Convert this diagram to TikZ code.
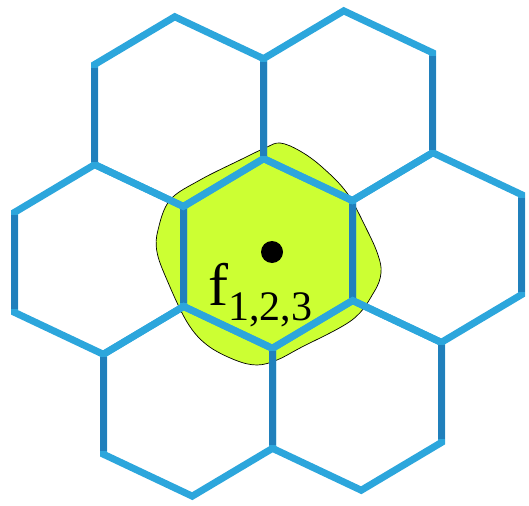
\documentclass[tikz,border=0pt]{standalone}
\usepackage{fontspec}
\setmainfont{Liberation Serif}
\definecolor{hexlight}{RGB}{44,166,220}
\definecolor{hexdark}{RGB}{32,128,188}
\definecolor{blobfill}{RGB}{204,255,51}
\tikzset{
  hexedge/.style={hexlight, line width=7pt, line join=miter},
  hexside/.style={hexdark, line width=7pt, line cap=butt},
  blob/.style={fill=blobfill, draw=black, line width=0.7pt}
}
\begin{document}
\begin{tikzpicture}[x=1pt,y=1pt]
\useasboundingbox (0,0) rectangle (529,-505);
% green region
\draw[blob] plot[smooth cycle, tension=0.6] coordinates {
 (280,-143) (300,-151) (322,-167) (347,-193) (367,-230) (378,-255) (381,-273) (374,-292)
 (352,-320) (300,-348) (277,-360) (257,-365) (235,-360) (207,-345) (187,-322)
 (167,-280) (157,-252) (158,-230) (170,-200) (200,-180) (240,-160) (265,-148)};
% hexagons
\begin{scope}[cm={1,0.035,0,1,(268,-253.5)}]
\foreach \cx/\cy in {0/0, 169/0, -169/0, 80/145, -89/145, -80/-145, 89/-145} {
  \draw[hexedge] (\cx-4.25,\cy+95) -- (\cx+84.5,\cy+50) -- (\cx+84.5,\cy-50) -- (\cx+4.25,\cy-95)
     -- (\cx-84.5,\cy-50) -- (\cx-84.5,\cy+50) -- cycle;
  \draw[hexside] (\cx+84.5,\cy+47) -- (\cx+84.5,\cy-47);
  \draw[hexside] (\cx-84.5,\cy+47) -- (\cx-84.5,\cy-47);
}
\end{scope}
% point and label
\node[circle, fill=black, inner sep=0pt, minimum size=22pt] (pt) at (272,-252) {};
\node[anchor=base west, inner sep=0pt] (lbl) at (208,-305)
  {\fontsize{60}{60}\selectfont f\raisebox{-15pt}{\fontsize{42}{42}\selectfont 1,2,3}};
\end{tikzpicture}
\end{document}
